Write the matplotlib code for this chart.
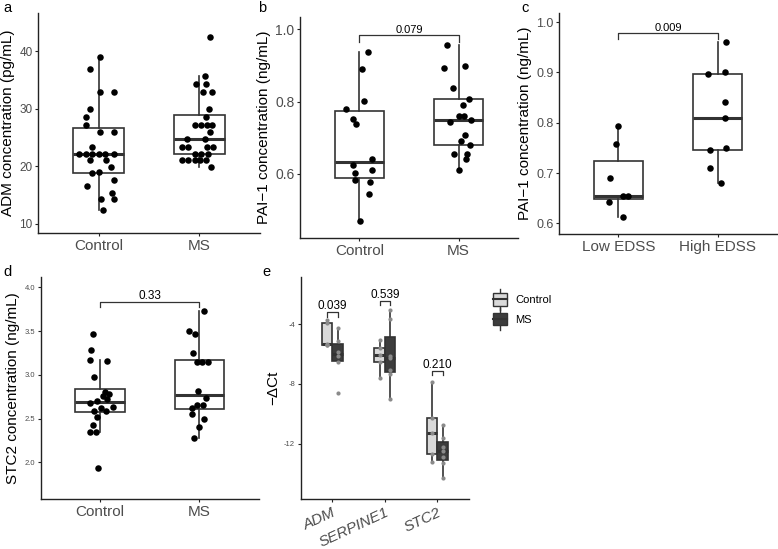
import numpy as np
import matplotlib
matplotlib.use("Agg")
import matplotlib.pyplot as plt
from matplotlib.patches import Rectangle
from matplotlib.lines import Line2D
from matplotlib.legend_handler import HandlerBase

plt.rcParams['font.family'] = ['Liberation Sans', 'DejaVu Sans']
plt.rcParams['axes.unicode_minus'] = False

# ---------------- data ----------------
# panel a: ADM (pg/mL)
a_categories = ["Control", "MS"]
a_control = [38.9, 36.9, 32.8, 32.8, 29.9, 28.5, 27.2, 25.9, 25.9, 23.4,
             22.2, 22.2, 22.2, 22.2, 22.2, 22.2, 21.0, 21.0, 19.9, 19.0,
             18.8, 17.6, 16.5, 15.4, 14.3, 14.3, 12.4]
a_control_jit = [0.016, -0.08, 0.016, 0.156, -0.08, -0.12, -0.12, 0.016, 0.156, -0.06,
                 -0.19, -0.12, -0.06, 0.0, 0.06, 0.15, -0.08, 0.07, 0.12, 0.0,
                 -0.06, 0.15, -0.11, 0.13, 0.02, 0.15, 0.04]
a_ms = [42.4, 35.7, 34.3, 34.3, 32.8, 32.8, 29.9, 28.5, 27.2, 27.2, 27.2, 27.2,
        25.9, 24.7, 24.7, 23.4, 23.4, 23.4, 23.4, 22.2, 22.2, 22.2,
        21.0, 21.0, 21.0, 21.0, 21.0, 19.9]
a_ms_jit = [0.10, 0.055, -0.03, 0.065, 0.036, 0.127, 0.094, 0.065, -0.045, 0.013, 0.07, 0.127,
            0.10, -0.12, 0.055, -0.17, -0.11, 0.075, 0.134, -0.04, 0.02, 0.08,
            -0.17, -0.11, -0.045, 0.01, 0.065, 0.11]

# panel b: PAI-1 (ng/mL)
b_categories = ["Control", "MS"]
b_control = [0.938, 0.890, 0.803, 0.780, 0.752, 0.739, 0.641, 0.624, 0.611, 0.603,
             0.584, 0.578, 0.545, 0.469]
b_control_jit = [0.09, 0.024, 0.05, -0.135, -0.064, -0.037, 0.13, -0.064, 0.128, -0.05,
                 -0.044, 0.11, 0.094, 0.007]
b_ms = [0.956, 0.899, 0.892, 0.839, 0.808, 0.791, 0.760, 0.760, 0.748, 0.744,
        0.708, 0.690, 0.680, 0.656, 0.656, 0.641, 0.612]
b_ms_jit = [-0.114, 0.067, -0.148, -0.057, 0.104, 0.047, 0.0, 0.06, 0.128, -0.09,
            0.07, 0.02, 0.118, -0.047, 0.084, 0.074, 0.0]
b_pvalue = "0.079"

# panel c: PAI-1 by EDSS
c_categories = ["Low EDSS", "High EDSS"]
c_low = [0.794, 0.758, 0.691, 0.654, 0.654, 0.643, 0.612]
c_low_jit = [0.0, -0.02, -0.084, 0.043, 0.097, -0.1, 0.047]
c_high = [0.960, 0.900, 0.896, 0.842, 0.809, 0.750, 0.745, 0.710, 0.681]
c_high_jit = [0.087, 0.074, -0.1, 0.08, 0.08, 0.087, -0.08, -0.074, 0.033]
c_pvalue = "0.009"

# panel d: STC2 (ng/mL)
d_categories = ["Control", "MS"]
d_control = [3.473, 3.286, 3.176, 3.164, 2.977, 2.800, 2.782, 2.763, 2.721, 2.706,
             2.676, 2.634, 2.626, 2.592, 2.588, 2.515, 2.424, 2.351, 2.351, 1.935]
d_control_jit = [-0.07, -0.095, -0.10, 0.07, -0.06, 0.05, 0.087, 0.034, 0.074, -0.034,
                 -0.10, 0.13, 0.01, -0.06, 0.06, -0.03, -0.07, -0.10, -0.04, -0.023]
d_ms = [3.729, 3.500, 3.469, 3.252, 3.145, 3.145, 3.145, 2.813, 2.737, 2.653,
        2.653, 2.622, 2.553, 2.496, 2.405, 2.282]
d_ms_jit = [0.05, -0.10, -0.04, -0.06, -0.025, 0.03, 0.09, -0.015, 0.07, -0.02,
            0.035, -0.075, -0.075, 0.05, -0.005, -0.055]
d_pvalue = "0.33"

# panel e: -dCt
e_genes = ["ADM", "SERPINE1", "STC2"]
e_groups = ["Control", "MS"]
e_control = [[-3.71, -3.93, -5.34, -5.39, -5.42],
             [-5.05, -5.61, -6.06, -6.55, -7.58],
             [-7.89, -10.26, -11.26, -12.72, -13.2]]
e_ms = [[-4.27, -5.15, -5.85, -6.15, -6.55, -8.58],
        [-3.04, -3.64, -6.10, -6.23, -7.05, -7.30, -9.0],
        [-10.75, -11.6, -12.2, -12.47, -12.9, -13.3, -14.32]]
e_pvalues = ["0.039", "0.539", "0.210"]

# ---------------- styling ----------------
W, H = 778, 549
fig = plt.figure(figsize=(W / 100, H / 100), dpi=100)

def px_axes(left, right, top, bottom):
    return fig.add_axes([left / W, 1 - bottom / H, (right - left) / W, (bottom - top) / H])

LINE = '#333333'
TICKC = '#4d4d4d'

def style(ax, ylabel, tick_fs, x_fs=11):
    for s in ['top', 'right']:
        ax.spines[s].set_visible(False)
    for s in ['left', 'bottom']:
        ax.spines[s].set_color('#222222')
        ax.spines[s].set_linewidth(1.0)
    ax.tick_params(axis='y', labelsize=tick_fs, labelcolor=TICKC, color='#222222', length=2.5, width=0.8, pad=1.5)
    ax.tick_params(axis='x', labelsize=x_fs, labelcolor=TICKC, color='#222222', length=2.5, width=0.8, pad=2)
    ax.set_ylabel(ylabel, fontsize=11, color='black', labelpad=3)

def box(ax, data, pos, width, whis=1.5, face='white'):
    ax.boxplot(data, positions=pos, widths=width, whis=whis, showfliers=False,
               patch_artist=True, manage_ticks=False,
               boxprops=dict(facecolor=face, edgecolor=LINE, linewidth=1.2),
               medianprops=dict(color=LINE, linewidth=2.2),
               whiskerprops=dict(color=LINE, linewidth=1.2),
               capprops=dict(visible=False), zorder=2)

def dots(ax, x0, vals, jit, s=22, color='black'):
    ax.scatter(np.array(jit) + x0, vals, s=s, color=color, zorder=3, linewidths=0)

def bracket(ax, x1, x2, y, tip, text, fs=8):
    ax.plot([x1, x1, x2, x2], [y - tip, y, y, y - tip], color=LINE, lw=0.9, zorder=4)
    ax.text((x1 + x2) / 2, y, text, ha='center', va='bottom', fontsize=fs, color='black')

# ---- panel a ----
ax = px_axes(38, 260, 13, 233)
box(ax, [a_control, a_ms], [1, 2], 0.5, whis=2.0)
dots(ax, 1, a_control, a_control_jit)
dots(ax, 2, a_ms, a_ms_jit)
ax.set_xlim(0.4, 2.6); ax.set_ylim(8.4, 46.6)
ax.set_yticks([10, 20, 30, 40])
ax.set_xticks([1, 2]); ax.set_xticklabels(a_categories)
style(ax, "ADM concentration (pg/mL)", 8.5)

# ---- panel b ----
ax = px_axes(300, 518, 17, 238)
box(ax, [b_control, b_ms], [1, 2], 0.5)
dots(ax, 1, b_control, b_control_jit)
dots(ax, 2, b_ms, b_ms_jit)
ax.set_xlim(0.4, 2.6); ax.set_ylim(0.423, 1.034)
ax.set_yticks([0.6, 0.8, 1.0])
ax.set_yticklabels(["0.6", "0.8", "1.0"])
ax.set_xticks([1, 2]); ax.set_xticklabels(b_categories)
style(ax, "PAI−1 concentration (ng/mL)", 10)
bracket(ax, 1, 2, 0.983, 0.017, b_pvalue)

# ---- panel c ----
ax = px_axes(559, 777, 13, 234)
box(ax, [c_low, c_high], [1, 2], 0.5)
dots(ax, 1, c_low, c_low_jit)
dots(ax, 2, c_high, c_high_jit)
ax.set_xlim(0.4, 2.6); ax.set_ylim(0.579, 1.018)
ax.set_yticks([0.6, 0.7, 0.8, 0.9, 1.0])
ax.set_yticklabels(["0.6", "0.7", "0.8", "0.9", "1.0"])
ax.set_xticks([1, 2]); ax.set_xticklabels(c_categories)
style(ax, "PAI−1 concentration (ng/mL)", 9)
bracket(ax, 1, 2, 0.978, 0.012, c_pvalue)

# ---- panel d ----
ax = px_axes(40.5, 259, 277, 499)
box(ax, [d_control, d_ms], [1, 2], 0.5)
dots(ax, 1, d_control, d_control_jit)
dots(ax, 2, d_ms, d_ms_jit)
ax.set_xlim(0.4, 2.6); ax.set_ylim(1.58, 4.12)
ax.set_yticks([2.0, 2.5, 3.0, 3.5, 4.0])
ax.set_yticklabels(["2.0", "2.5", "3.0", "3.5", "4.0"])
ax.set_xticks([1, 2]); ax.set_xticklabels(d_categories)
style(ax, "STC2 concentration (ng/mL)", 5.5)
bracket(ax, 1, 2, 3.836, 0.056, d_pvalue, fs=8.5)

# ---- panel e ----
ax = px_axes(300.7, 469, 277, 499)
xpos = np.arange(1, len(e_genes) + 1)
CFILL, MFILL = '#d9d9d9', '#3d3d3d'
box(ax, e_control, xpos - 0.1, 0.2, face=CFILL)
box(ax, e_ms, xpos + 0.1, 0.2, face=MFILL)
for i, x in enumerate(xpos):
    ax.scatter(np.full(len(e_control[i]), x - 0.1), e_control[i], s=9, color='#8a8a8a', zorder=3, linewidths=0)
    ax.scatter(np.full(len(e_ms[i]), x + 0.1), e_ms[i], s=9, color='#8a8a8a', zorder=3, linewidths=0)
e_bracket_y = [-3.2, -2.44, -7.13]
for i, x in enumerate(xpos):
    bracket(ax, x - 0.1, x + 0.1, e_bracket_y[i], 0.28, e_pvalues[i], fs=8.5)
ax.set_xlim(0.4, 3.6); ax.set_ylim(-15.71, -0.83)
ax.set_yticks([-4, -8, -12])
ax.set_xticks(xpos)
ax.set_xticklabels(e_genes, rotation=25, ha='right', rotation_mode='anchor', style='italic')
style(ax, "−ΔCt", 5.5)

class BoxHandler(HandlerBase):
    def create_artists(self, legend, orig_handle, xdescent, ydescent, width, height, fontsize, trans):
        face = orig_handle.get_facecolor()
        cx = width / 2 - xdescent
        bw = width * 0.85
        line = Line2D([cx, cx], [-ydescent - height * 0.35, -ydescent + height * 1.35], color=LINE, lw=1.0, transform=trans)
        rect = Rectangle((cx - bw / 2, -ydescent), bw, height, facecolor=face, edgecolor=LINE, lw=1.0, transform=trans)
        med = Line2D([cx - bw / 2, cx + bw / 2], [-ydescent + height / 2] * 2, color=LINE, lw=1.5, transform=trans)
        return [line, rect, med]

handles = [Rectangle((0, 0), 1, 1, facecolor=CFILL), Rectangle((0, 0), 1, 1, facecolor=MFILL)]
fig.legend(handles, e_groups, handler_map={Rectangle: BoxHandler()},
           loc='upper left', bbox_to_anchor=(482 / W, 1 - 283 / H), frameon=False,
           fontsize=8, handlelength=1.5, handleheight=1.4, labelspacing=0.6, handletextpad=0.6)

# panel letters
for letter, (x, y) in zip("abcde", [(3, 8), (258, 8), (521, 8), (3, 272), (262, 272)]):
    fig.text(x / W, 1 - y / H, letter, fontsize=10.5, ha='left', va='center')

fig.savefig("out.png", dpi=100)
